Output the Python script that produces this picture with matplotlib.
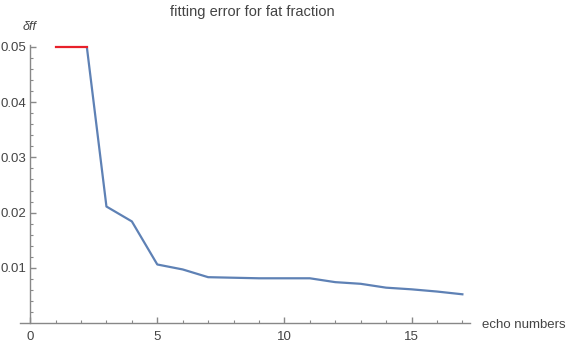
import numpy as np
import matplotlib
matplotlib.use("Agg")
import matplotlib.pyplot as plt
from matplotlib.patches import Rectangle

echo = [1, 2, 3, 4, 5, 6, 7, 8, 9, 10, 11, 12, 13, 14, 15, 16, 17]
err = [0.075, 0.0586, 0.0211, 0.0184, 0.0106, 0.0097, 0.0083, 0.0082, 0.0081,
       0.0081, 0.0081, 0.0074, 0.0071, 0.0064, 0.0061, 0.0057, 0.0052]
ymax = 0.05
xticks = [0, 5, 10, 15]
yticks = [0.01, 0.02, 0.03, 0.04, 0.05]

plt.rcParams['font.family'] = ['Liberation Sans', 'DejaVu Sans']

fig = plt.figure(figsize=(5.68, 3.48), dpi=100)
ax = fig.add_axes([20/568, 25/348, 450/568, 278/348])
ax.set_xlim(-0.4, 17.3)
ax.set_ylim(0, 0.05036)

x = np.array(echo, float)
y = np.array(err, float)
blue = '#5E81B5'
clip = Rectangle((x.min() - 1, 0), x.max() + 2, ymax, transform=ax.transData)
ln, = ax.plot(x, y, color=blue, lw=1.6, solid_joinstyle='round', zorder=3)
ln.set_clip_path(clip)

# clipped region: red line at the top where data exceeds plot range
above = y > ymax
i = np.where(above)[0][-1]
xc = x[i] + (ymax - y[i]) * (x[i+1] - x[i]) / (y[i+1] - y[i])
xs = [x[above][0], xc]
ax.plot(xs, [ymax, ymax], color='#E8202A', lw=1.6, zorder=4, clip_on=False)

for s in ['top', 'right']:
    ax.spines[s].set_visible(False)
ax.spines['left'].set_position(('data', 0))
ax.spines['left'].set_bounds(0, 0.05036)
for s in ['left', 'bottom']:
    ax.spines[s].set_color('#888888')
    ax.spines[s].set_linewidth(1.0)

ax.set_xticks(xticks)
ax.set_xticks(np.arange(1, 18), minor=True)
ax.set_yticks(yticks)
ax.set_yticks(np.arange(0.002, 0.0501, 0.002), minor=True)
ax.set_xticklabels([str(t) for t in xticks])
ax.set_yticklabels(['%.2f' % t for t in yticks])
ax.tick_params(which='both', direction='in', color='#888888', labelcolor='#444444', labelsize=9.5)
ax.tick_params(which='major', length=4, width=1)
ax.tick_params(which='minor', length=2.5, width=0.8)
ax.tick_params(axis='x', pad=6)
ax.tick_params(axis='y', pad=3)

fig.text(252/568, 1 - 12/348, 'fitting error for fat fraction', ha='center', va='center',
         fontsize=10.5, color='#444444')
fig.text(30/568, 1 - 27/348, 'δff', ha='center', va='center', fontsize=9,
         style='italic', color='#444444')
fig.text(482/568, 1 - 325/348, 'echo numbers', ha='left', va='center', fontsize=9.5,
         color='#444444')

fig.savefig('out.png', dpi=100)
